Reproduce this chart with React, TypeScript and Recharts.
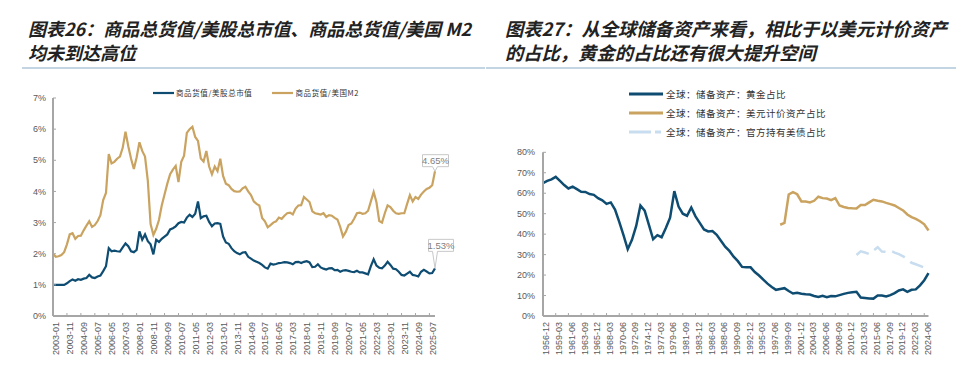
import { LabelList, Legend, Line, LineChart, XAxis, YAxis } from 'recharts'

const BLUE = '#0e4c72'
const GOLD = '#c9a35f'
const LIGHT = '#c8ddef'
const AXIS = '#a6a6a6'
const TICK = '#595959'
const SANS = '"Liberation Sans", Arial, sans-serif'
const CJK = '"Noto Sans CJK SC", sans-serif'

// 图表26: one value every two months, 2003-01 .. 2025-11 (%)
const stockRatio = [
  1.0, 1.0, 1.0, 1.0, 1.0, 1.05, 1.12, 1.17, 1.13, 1.18,
  1.16, 1.2, 1.22, 1.32, 1.24, 1.22, 1.27, 1.3, 1.44, 1.6,
  2.18, 2.08, 2.1, 2.08, 2.07, 2.2, 2.33, 2.24, 2.08, 2.05,
  2.12, 2.72, 2.45, 2.62, 2.4, 2.3, 1.98, 2.45, 2.38, 2.48,
  2.55, 2.62, 2.78, 2.82, 2.88, 2.98, 3.02, 3.0, 3.16, 3.25,
  3.18, 3.28, 3.68, 3.14, 3.2, 3.22, 3.02, 2.88, 2.97, 2.98,
  2.96, 2.55, 2.36, 2.32, 2.18, 2.08, 2.02, 1.98, 2.04, 2.05,
  1.9, 1.84, 1.78, 1.74, 1.7, 1.64, 1.56, 1.52, 1.68, 1.65,
  1.67, 1.7, 1.71, 1.73, 1.72, 1.7, 1.66, 1.73, 1.74, 1.7,
  1.74, 1.76, 1.72, 1.57, 1.58, 1.66, 1.56, 1.52, 1.49, 1.53,
  1.54, 1.47, 1.48, 1.42, 1.46, 1.47, 1.45, 1.42, 1.41, 1.45,
  1.4, 1.4, 1.37, 1.34, 1.6, 1.82, 1.62, 1.55, 1.53, 1.62,
  1.74, 1.64, 1.52, 1.5, 1.42, 1.32, 1.3, 1.36, 1.42, 1.32,
  1.3, 1.27, 1.42, 1.48, 1.43, 1.37, 1.38, 1.53,
]
const m2Ratio = [
  2.0, 1.9, 1.92, 1.96, 2.05, 2.3, 2.62, 2.66, 2.48, 2.57,
  2.58, 2.75, 2.9, 3.04, 2.86, 2.92, 3.05, 3.24, 3.72, 3.95,
  5.2, 4.9, 4.95, 5.05, 5.12, 5.4, 5.92, 5.45, 5.05, 4.72,
  5.1, 5.58, 5.3, 5.12, 4.35, 2.95, 2.6, 2.8, 3.08, 3.55,
  3.9, 4.25, 4.55, 4.7, 4.82, 4.3, 4.95, 5.15, 5.88, 6.0,
  6.08, 5.75, 5.62, 5.06, 4.96, 5.3, 4.8, 4.55, 4.8, 4.65,
  5.05, 4.5, 4.25, 4.2, 4.08, 4.01, 3.99, 4.0, 4.1, 4.15,
  4.0, 3.88, 3.68, 3.6, 3.55, 3.15, 3.04, 2.85, 2.92, 3.0,
  3.04, 3.16, 3.12, 3.22, 3.3, 3.32, 3.26, 3.45, 3.55, 3.56,
  3.82, 3.74, 3.66, 3.36, 3.3, 3.28, 3.26, 3.3, 3.18, 3.24,
  3.22, 3.15, 3.1, 2.86, 2.55, 2.7, 2.92, 2.97, 3.12, 3.3,
  3.32, 3.28, 3.3, 3.38, 3.68, 3.98, 3.65, 3.05, 3.0, 3.3,
  3.55, 3.5, 3.38, 3.3, 3.28, 3.3, 3.3, 3.6, 3.88, 3.68,
  3.82, 3.76, 3.9, 4.0, 4.08, 4.12, 4.2, 4.65,
]
const leftTicks = [0, 1, 2, 3, 4, 5, 6, 7]

// 图表27: one value every three quarters from 1956-12 (%)
const goldShare = [
  64.9, 66.0, 66.8, 68.0, 66.0, 64.0, 62.3, 63.2, 62.0, 60.7,
  60.6, 59.6, 59.2, 57.6, 56.5, 54.8, 55.5, 52.0, 46.0, 39.5,
  32.6, 37.2, 44.0, 54.0, 51.5, 44.5, 37.5, 39.5, 38.5, 43.0,
  48.0, 61.0, 53.5, 50.0, 49.0, 53.0, 48.7, 45.5, 42.3, 41.3,
  41.5, 39.7, 36.8, 33.9, 31.8, 29.0, 26.8, 24.0, 23.8, 23.8,
  21.5, 19.8, 17.8, 15.8, 14.2, 12.8, 13.2, 13.6, 12.2, 11.0,
  11.4, 10.9, 10.6, 10.5, 9.8, 9.3, 9.9, 9.2, 9.8, 9.6,
  10.2, 10.8, 11.3, 11.6, 11.8, 9.0, 8.8, 8.6, 8.5, 10.0,
  10.0, 9.6, 10.2, 11.2, 12.5, 13.0, 11.8, 12.8, 13.0, 15.0,
  17.5, 21.0,
]
// starts 1998-12
const usdShare = [
  44.6, 45.5, 59.4, 60.5, 59.5, 56.0, 56.0, 55.5, 56.3, 58.3,
  57.6, 57.4, 56.6, 57.6, 54.0, 53.3, 52.8, 52.6, 52.5, 54.2,
  54.2, 55.5, 56.8, 56.3, 56.0, 55.3, 54.7, 54.0, 52.8, 51.6,
  49.6, 48.3, 47.5, 46.3, 44.8, 41.8,
]
// starts 2012-06
const treasuryShare = [
  29.8, 31.6, 31.0, 30.3, 32.0, 33.6, 31.5, 31.4, 32.0, 31.0,
  30.2, 29.2, 27.8, 26.0, 25.3, 24.5, 23.7, 22.6,
]
const rightTicks = [0, 10, 20, 30, 40, 50, 60, 70, 80]

const ym = (t: number) => `${Math.floor(t / 12)}-${String((t % 12) + 1).padStart(2, '0')}`
const leftDates = stockRatio.map((_, i) => ym(2003 * 12 + i * 2))
const rightDates = goldShare.map((_, i) => ym(1956 * 12 + 11 + i * 9))

const leftData = leftDates.map((date, i) => ({ date, stock: stockRatio[i], m2: m2Ratio[i] }))
const usdFrom = rightDates.indexOf('1998-12')
const tsyFrom = rightDates.indexOf('2012-06')
const rightData = rightDates.map((date, i) => ({
  date,
  gold: goldShare[i],
  usd: i >= usdFrom ? usdShare[i - usdFrom] ?? null : null,
  tsy: i >= tsyFrom ? treasuryShare[i - tsyFrom] ?? null : null,
}))

const Callout = ({ last, w, dx, rise }: { last: number; w: number; dx: number; rise: number }) =>
  (p: any) => {
    if (p.index !== last) return null
    const px = Number(p.x ?? p.viewBox?.x)
    const py = Number(p.y ?? p.viewBox?.y)
    const h = 12
    const cx = px + dx
    const l = cx - w / 2
    const r = cx + w / 2
    const b = py - rise
    const t = b - h
    const b1 = Math.max(l + 1, px - 2.5)
    const b2 = Math.min(r - 1, px + 2.5)
    return (
      <g>
        <path
          d={`M${l},${t}H${r}V${b}H${b2}L${px},${py}L${b1},${b}H${l}Z`}
          fill="#fff"
          stroke="#c8c8c8"
          strokeWidth={1}
        />
        <text x={cx} y={t + 9.5} textAnchor="middle" fontSize={9.5} fontFamily={SANS} fill="#808080">
          {`${Number(p.value).toFixed(2)}%`}
        </text>
      </g>
    )
  }

const LeftLegend = () => (
  <div style={{ display: 'flex', alignItems: 'center', fontFamily: CJK, fontSize: 7.5, letterSpacing: 0.6, color: '#333' }}>
    <svg width={21} height={4}><line x1={0} y1={2} x2={21} y2={2} stroke={BLUE} strokeWidth={2.2} /></svg>
    <span style={{ marginLeft: 2, marginRight: 20 }}>商品货值/美股总市值</span>
    <svg width={21} height={4}><line x1={0} y1={2} x2={21} y2={2} stroke={GOLD} strokeWidth={2.2} /></svg>
    <span style={{ marginLeft: 2 }}>商品货值/美国M2</span>
  </div>
)

const rightLegendItems = [
  { name: '全球：储备资产：黄金占比', color: BLUE, dash: undefined },
  { name: '全球：储备资产：美元计价资产占比', color: GOLD, dash: undefined },
  { name: '全球：储备资产：官方持有美债占比', color: LIGHT, dash: '22 4 6' },
]

const RightLegend = () => (
  <div style={{ fontFamily: CJK, fontSize: 9.5, letterSpacing: 0.5, color: '#333' }}>
    {rightLegendItems.map((it) => (
      <div key={it.name} style={{ display: 'flex', alignItems: 'center', height: 19 }}>
        <svg width={34} height={4}>
          <line x1={0} y1={2} x2={34} y2={2} stroke={it.color} strokeWidth={3} strokeDasharray={it.dash} />
        </svg>
        <span style={{ marginLeft: 3 }}>{it.name}</span>
      </div>
    ))}
  </div>
)

const tickStyle = { fontSize: 9, fill: TICK, fontFamily: SANS }

const Title = ({ left, size, lines }: { left: number; size: number; lines: string[] }) => (
  <div
    style={{
      position: 'absolute',
      left,
      top: 16,
      fontFamily: CJK,
      fontStyle: 'italic',
      fontWeight: 700,
      fontSize: size,
      lineHeight: '24px',
      color: '#222',
      whiteSpace: 'nowrap',
    }}
  >
    {lines.map((s) => (
      <div key={s}>{s}</div>
    ))}
  </div>
)

export default function App() {
  return (
    <div style={{ position: 'fixed', left: 0, top: 0, width: 970, height: 368, background: '#fff', overflow: 'hidden' }}>
      <Title left={28} size={18} lines={['图表26：商品总货值/美股总市值、商品总货值/美国 M2', '均未到达高位']} />
      <Title left={505} size={18.3} lines={['图表27：从全球储备资产来看，相比于以美元计价资产', '的占比，黄金的占比还有很大提升空间']} />
      <div style={{ position: 'absolute', left: 22, top: 67, width: 463, height: 1.5, background: '#c3d4e3' }} />
      <div style={{ position: 'absolute', left: 486, top: 67, width: 470, height: 1.5, background: '#c3d4e3' }} />

      <div style={{ position: 'absolute', left: 0, top: 80 }}>
        <LineChart width={480} height={288} data={leftData} margin={{ top: 18, right: 45, bottom: 2, left: 0 }}>
          <XAxis
            dataKey="date"
            interval={4}
            angle={-90}
            textAnchor="end"
            height={50}
            tick={tickStyle}
            tickSize={-3}
            tickMargin={9}
            axisLine={{ stroke: AXIS, strokeWidth: 2 }}
            tickLine={{ stroke: AXIS }}
          />
          <YAxis
            width={53}
            domain={[0, 7]}
            ticks={leftTicks}
            tickFormatter={(v) => `${v}%`}
            tick={tickStyle}
            tickSize={-3}
            tickMargin={10}
            axisLine={{ stroke: AXIS, strokeWidth: 2 }}
            tickLine={{ stroke: AXIS }}
          />
          <Legend
            verticalAlign="middle"
            align="center"
            layout="horizontal"
            wrapperStyle={{ top: 7, left: 153, width: 300 }}
            content={() => <LeftLegend />}
          />
          <Line type="linear" dataKey="stock" stroke={BLUE} strokeWidth={2.2} dot={false} isAnimationActive={false}>
            <LabelList dataKey="stock" content={Callout({ last: leftData.length - 1, w: 25, dx: 6, rise: 17 })} />
          </Line>
          <Line type="linear" dataKey="m2" stroke={GOLD} strokeWidth={2.2} dot={false} isAnimationActive={false}>
            <LabelList dataKey="m2" content={Callout({ last: leftData.length - 1, w: 26, dx: 0.5, rise: 4.5 })} />
          </Line>
        </LineChart>
      </div>

      <div style={{ position: 'absolute', left: 490, top: 80 }}>
        <LineChart width={480} height={288} data={rightData} margin={{ top: 72.3, right: 41.5, bottom: 2, left: 0 }}>
          <XAxis
            dataKey="date"
            interval={2}
            angle={-90}
            textAnchor="end"
            height={50}
            tick={tickStyle}
            tickSize={-3}
            tickMargin={9}
            axisLine={{ stroke: AXIS, strokeWidth: 2 }}
            tickLine={{ stroke: AXIS }}
          />
          <YAxis
            width={53}
            domain={[0, 80]}
            ticks={rightTicks}
            tickFormatter={(v) => `${v}%`}
            tick={tickStyle}
            tickSize={-3}
            tickMargin={11}
            axisLine={{ stroke: AXIS, strokeWidth: 2 }}
            tickLine={{ stroke: AXIS }}
          />
          <Legend
            verticalAlign="middle"
            align="center"
            layout="horizontal"
            wrapperStyle={{ top: 4, left: 139, width: 300 }}
            content={() => <RightLegend />}
          />
          <Line type="linear" dataKey="tsy" stroke={LIGHT} strokeWidth={2.5} strokeDasharray="14 7" dot={false} isAnimationActive={false} />
          <Line type="linear" dataKey="usd" stroke={GOLD} strokeWidth={2.5} dot={false} isAnimationActive={false} />
          <Line type="linear" dataKey="gold" stroke={BLUE} strokeWidth={2.5} dot={false} isAnimationActive={false} />
        </LineChart>
      </div>
    </div>
  )
}
